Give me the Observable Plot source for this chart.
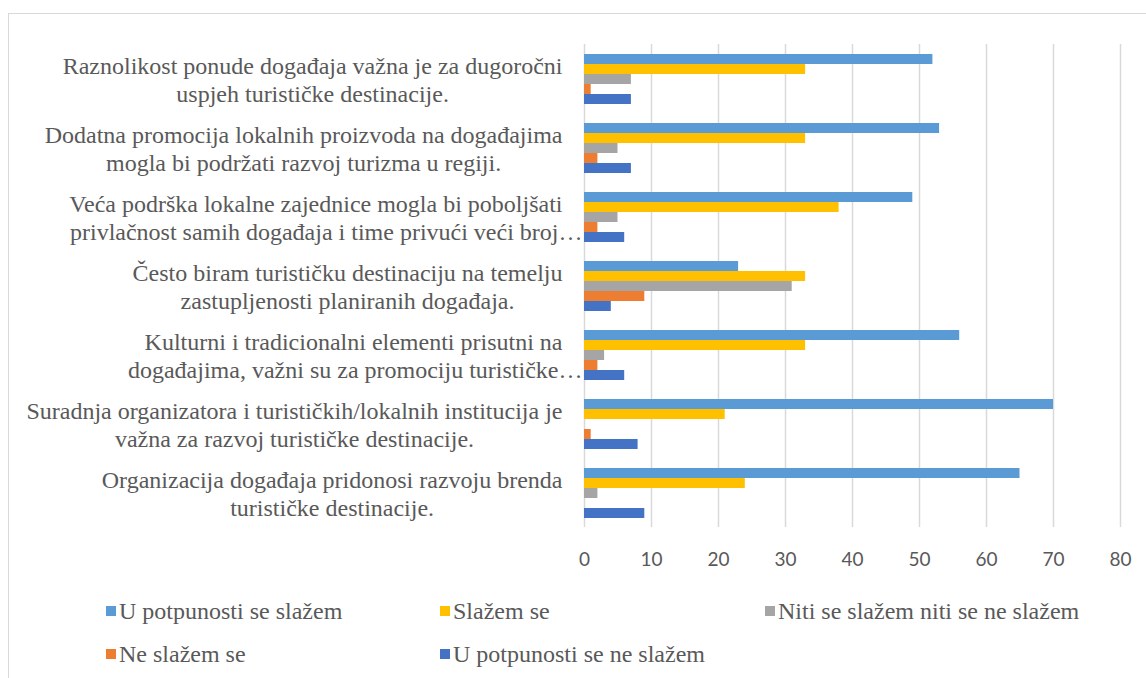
<!DOCTYPE html>
<html>
<head>
<meta charset="utf-8">
<script src="https://cdn.jsdelivr.net/npm/d3@7"></script>
<script src="https://cdn.jsdelivr.net/npm/@observablehq/plot@0.6"></script>
<style>
  html, body { margin: 0; padding: 0; background: #fff; width: 1146px; height: 678px; overflow: hidden; }
  #frame { position: absolute; left: 8px; top: 13px; width: 1200px; height: 700px; border: 1.5px solid #d9d9d9; box-sizing: border-box; }
  #chart { position: absolute; left: 0; top: 0; }
  #legend { position: absolute; left: 106px; top: 596px; display: grid; grid-template-columns: 334px 325px auto; grid-auto-rows: 43px;
            font-family: "Liberation Serif", "Times New Roman", serif; font-size: 24px; color: #595959; }
  .item { display: flex; align-items: center; height: 30px; }
  .sw { width: 10px; height: 10px; margin-right: 3px; flex: none; }
</style>
</head>
<body>
<div id="frame"></div>
<div id="chart"></div>
<div id="legend"></div>
<script>
const questions = [
  "Raznolikost ponude događaja važna je za dugoročni\nuspjeh turističke destinacije.",
  "Dodatna promocija lokalnih proizvoda na događajima\nmogla bi podržati razvoj turizma u regiji.",
  "Veća podrška lokalne zajednice mogla bi poboljšati\nprivlačnost samih događaja i time privući veći broj…",
  "Često biram turističku destinaciju na temelju\nzastupljenosti planiranih događaja.",
  "Kulturni i tradicionalni elementi prisutni na\ndogađajima, važni su za promociju turističke…",
  "Suradnja organizatora i turističkih/lokalnih institucija je\nvažna za razvoj turističke destinacije.",
  "Organizacija događaja pridonosi razvoju brenda\nturističke destinacije."
];
const series = [
  "U potpunosti se slažem",
  "Slažem se",
  "Niti se slažem niti se ne slažem",
  "Ne slažem se",
  "U potpunosti se ne slažem"
];
const colors = ["#5B9BD5", "#FFC000", "#A5A5A5", "#ED7D31", "#4472C4"];
const fullyAgree    = [52, 53, 49, 23, 56, 70, 65];
const agree         = [33, 33, 38, 33, 33, 21, 24];
const neutral       = [7, 5, 5, 31, 3, 0, 2];
const disagree      = [1, 2, 2, 9, 2, 1, 0];
const fullyDisagree = [7, 7, 6, 4, 6, 8, 9];
const xTicks = [0, 10, 20, 30, 40, 50, 60, 70, 80];

const valuesBySeries = [fullyAgree, agree, neutral, disagree, fullyDisagree];
const rows = [];
questions.forEach((q, i) => {
  series.forEach((s, j) => rows.push({q, s, v: valuesBySeries[j][i]}));
});

const serif = "'Liberation Serif', 'Times New Roman', serif";

const chart = Plot.plot({
  width: 1146,
  height: 585,
  marginLeft: 584,
  marginRight: 26,
  marginTop: 43,
  marginBottom: 58,
  style: {background: "transparent", overflow: "visible"},
  x: {domain: [0, 80], axis: null},
  y: {domain: series, axis: null, paddingInner: 0, paddingOuter: 0.95},
  fy: {domain: questions, axis: null, padding: 0},
  color: {domain: series, range: colors},
  marks: [
    Plot.gridX(xTicks, {stroke: "#d9d9d9", strokeOpacity: 1, strokeWidth: 1.5}),
    Plot.barX(rows, {fy: "q", y: "s", x1: 0, x2: "v", fill: "s"}),
    Plot.axisX(xTicks, {anchor: "bottom", tickSize: 0, tickPadding: 25, fontSize: 19,
      fontFamily: "Lato, 'Open Sans', sans-serif", fill: "#595959", label: null, tickFormat: d => String(d)}),
    Plot.text(questions, {fy: d => d, text: d => d, frameAnchor: "left", textAnchor: "end", dx: -22,
      fontSize: 24, fontFamily: serif, fill: "#595959", lineHeight: 1.16, ariaLabel: "qlabels"})
  ]
});
document.getElementById("chart").appendChild(chart);

// Excel-style label block: lines centred on each other, block right-aligned to the axis;
// truncated (…) lines end at the axis.
Array.from(chart.querySelectorAll("text")).forEach(t => {
  const spans = Array.from(t.querySelectorAll("tspan"));
  if (spans.length < 2) return;
  const widths = spans.map(s => s.getComputedTextLength());
  const full = spans.map((s, i) => s.textContent.endsWith("…") ? 0 : widths[i]);
  const maxW = d3.max(full) || 0;
  t.setAttribute("text-anchor", "start");
  t.style.textAnchor = "start";
  spans.forEach((s, i) => {
    const w = widths[i];
    const start = s.textContent.endsWith("…") ? 20 - w : -maxW / 2 - w / 2;
    s.setAttribute("x", start);
  });
});

const legend = d3.select("#legend");
series.forEach((s, i) => {
  const it = legend.append("div").attr("class", "item");
  it.append("div").attr("class", "sw").style("background", colors[i]);
  it.append("span").text(s);
});
</script>
</body>
</html>
